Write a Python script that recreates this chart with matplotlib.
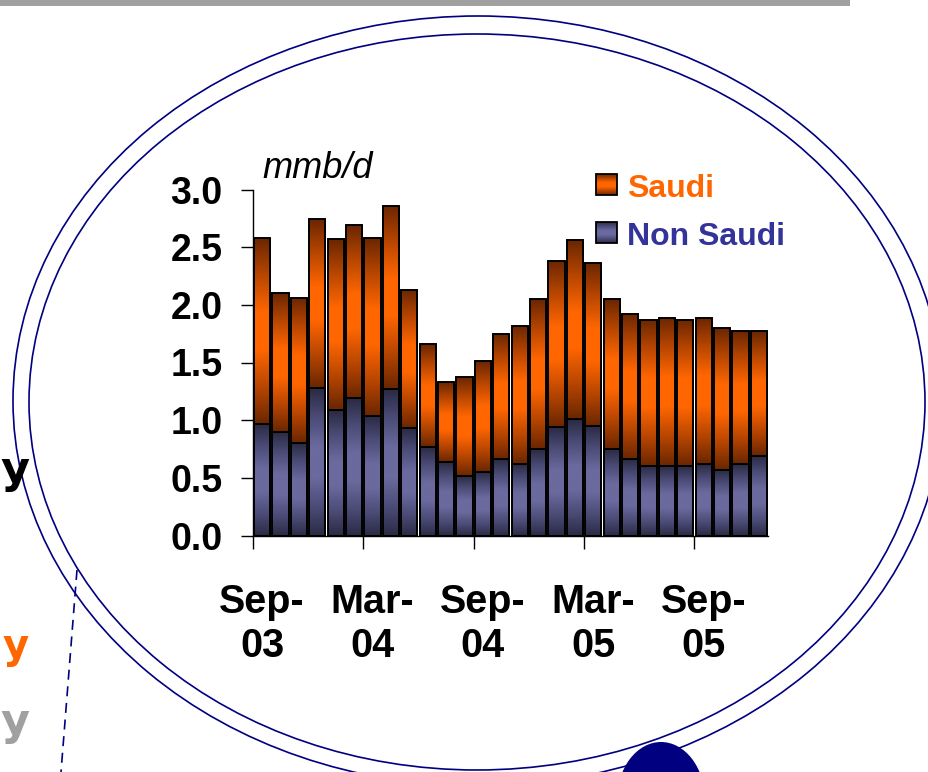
import numpy as np
import matplotlib
matplotlib.use("Agg")
import matplotlib.pyplot as plt
from matplotlib.colors import LinearSegmentedColormap
from matplotlib.patches import Ellipse, Rectangle

# ---- data (mmb/d), monthly Sep-03 .. Dec-05 ----
months = ["Sep-03", "Oct-03", "Nov-03", "Dec-03", "Jan-04", "Feb-04", "Mar-04",
          "Apr-04", "May-04", "Jun-04", "Jul-04", "Aug-04", "Sep-04", "Oct-04",
          "Nov-04", "Dec-04", "Jan-05", "Feb-05", "Mar-05", "Apr-05", "May-05",
          "Jun-05", "Jul-05", "Aug-05", "Sep-05", "Oct-05", "Nov-05", "Dec-05"]
total = [2.58, 2.10, 2.06, 2.74, 2.57, 2.69, 2.58, 2.86, 2.13, 1.66, 1.33, 1.37,
         1.51, 1.75, 1.82, 2.05, 2.38, 2.56, 2.36, 2.05, 1.92, 1.87, 1.89, 1.87,
         1.89, 1.80, 1.77, 1.77]
non_saudi = [0.97, 0.90, 0.80, 1.28, 1.09, 1.19, 1.04, 1.27, 0.93, 0.77, 0.64, 0.52,
             0.55, 0.66, 0.62, 0.75, 0.94, 1.01, 0.95, 0.75, 0.66, 0.60, 0.60, 0.60,
             0.62, 0.57, 0.62, 0.69]
saudi = [t - n for t, n in zip(total, non_saudi)]
tick_labels = ["Sep-\n03", "Mar-\n04", "Sep-\n04", "Mar-\n05", "Sep-\n05"]
yticks = [0.0, 0.5, 1.0, 1.5, 2.0, 2.5, 3.0]

W, H = 929, 772
fig = plt.figure(figsize=(W / 100, H / 100), dpi=100)
fig.patch.set_facecolor("white")

saudi_cmap = LinearSegmentedColormap.from_list("s", ["#6a2600", "#b84600", "#ff6600", "#ff6600", "#b84600", "#6a2600"])
non_cmap = LinearSegmentedColormap.from_list("n", ["#2a2a44", "#4c4c78", "#6a6a9e", "#6a6a9e", "#4c4c78", "#2a2a44"])
grad = np.linspace(0, 1, 256).reshape(-1, 1)

# ---- chart axes ----
ax = fig.add_axes([253 / W, 1 - 535.5 / H, 515 / W, 346 / H])
ax.patch.set_alpha(0)
x = np.arange(len(months))
bw = 0.88
b1 = ax.bar(x, non_saudi, width=bw, facecolor="none", edgecolor="black", linewidth=1.4, zorder=3)
b2 = ax.bar(x, saudi, bottom=non_saudi, width=bw, facecolor="none", edgecolor="black", linewidth=1.4, zorder=3)
for bars, cmap in ((b1, non_cmap), (b2, saudi_cmap)):
    for p in bars:
        x0, y0 = p.get_x(), p.get_y()
        im = ax.imshow(grad, cmap=cmap, aspect="auto", origin="lower",
                       extent=(x0, x0 + p.get_width(), y0, y0 + p.get_height()), zorder=2)
        im.set_clip_path(p)

ax.set_xlim(-0.5, len(months) - 0.5)
ax.set_ylim(0, 3.0)
for s in ("top", "right"):
    ax.spines[s].set_visible(False)
for s in ("left", "bottom"):
    ax.spines[s].set_linewidth(1.0)

font = "Liberation Sans"
ax.set_yticks(yticks)
ax.set_yticklabels([f"{v:.1f}" for v in yticks], fontfamily=font, fontweight="bold", fontsize=27)
ax.tick_params(axis="y", direction="out", length=9, width=1, pad=13)

ax.set_xticks([0, 6, 12, 18, 24])
ax.set_xticklabels(tick_labels, fontfamily=font, fontweight="bold", fontsize=28.5, linespacing=1.22)
ax.set_xticks([-0.5, 5.5, 11.5, 17.5, 23.5], minor=True)
ax.tick_params(axis="x", which="major", length=0, pad=34)
ax.tick_params(axis="x", which="minor", direction="out", length=9.4, width=1)

# ---- overlay (pixel coordinates) ----
ov = fig.add_axes([0, 0, 1, 1], zorder=5)
ov.set_xlim(0, W)
ov.set_ylim(H, 0)
ov.axis("off")
ov.patch.set_alpha(0)

navy = "#000080"
ov.add_patch(Rectangle((0, 0), 850, 6, facecolor="#a0a0a0", edgecolor="none"))
ov.add_patch(Ellipse((477, 402), 896, 736, fill=False, edgecolor=navy, linewidth=1.2))
ov.add_patch(Ellipse((478, 401), 930, 770, fill=False, edgecolor=navy, linewidth=1.2))
ov.add_patch(Ellipse((661, 800), 88, 116, facecolor=navy, edgecolor="none"))
ov.plot([77, 61], [570, 772], color=navy, linewidth=1.2, dashes=(6, 4))

ov.text(262, 178, "mmb/d", fontfamily=font, fontstyle="italic", fontsize=26, va="baseline", ha="left")

for (y0, label, col) in ((174, "Saudi", "#ff6600"), (222, "Non Saudi", "#333399")):
    sq = Rectangle((596, y0), 21, 21, facecolor="none", edgecolor="black", linewidth=1.3, zorder=6)
    ov.add_patch(sq)
    cm = saudi_cmap if label == "Saudi" else non_cmap
    im = ov.imshow(grad, cmap=cm, aspect="auto", extent=(596, 617, y0 + 21, y0), zorder=5)
    im.set_clip_path(sq)
    ov.text(627, y0 + 23, label, color=col, fontfamily=font, fontweight="bold", fontsize=23,
            va="baseline", ha="left")

# partial side texts (fragments visible at the left edge)
ov.text(0, 483, "y", fontfamily="DejaVu Sans", fontweight="bold", fontsize=32, color="black",
        va="baseline", ha="left")
ov.text(3, 658, "y", fontfamily="DejaVu Sans", fontweight="bold", fontsize=29, color="#ff6600",
        va="baseline", ha="left")
ov.text(0, 735, "y", fontfamily="DejaVu Sans", fontweight="bold", fontsize=32, color="#a0a0a0",
        va="baseline", ha="left")
ov.set_xlim(0, W)
ov.set_ylim(H, 0)

fig.savefig("out.png", dpi=100, facecolor="white")
